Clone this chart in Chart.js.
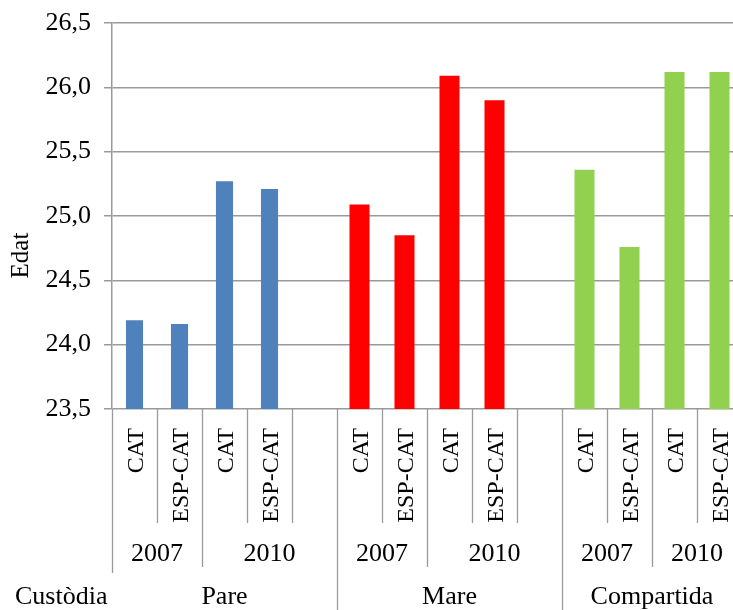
<!DOCTYPE html>
<html><head><meta charset="utf-8">
<script src="https://cdn.jsdelivr.net/npm/chart.js@4"></script>
<style>html,body{margin:0;padding:0;overflow:hidden;background:#fff}canvas{display:block}</style>
</head><body>
<canvas id="c" width="742" height="610"></canvas>
<script>
const groups = ['Pare', 'Mare', 'Compartida'];
const years = ['2007', '2010'];
const origins = ['CAT', 'ESP-CAT'];
const pareValues = [24.19, 24.16, 25.27, 25.21];
const mareValues = [25.09, 24.85, 26.09, 25.90];
const compartidaValues = [25.36, 24.76, 26.12, 26.12];
const yTicks = [23.5, 24.0, 24.5, 25.0, 25.5, 26.0, 26.5];
const yTitle = 'Edat';
const xTitle = 'Custòdia';
const groupColors = ['#4F81BD', '#FF0000', '#92D050'];
const lineColor = '#9A9A9A';
const FONT = '"Liberation Serif", "Times New Roman", serif';

const seriesValues = [pareValues, mareValues, compartidaValues];
const slots = [];
groups.forEach((g, gi) => {
  years.forEach((y, yi) => {
    origins.forEach((o, oi) => slots.push({group: g, gi, year: y, sub: o, value: seriesValues[gi][yi * origins.length + oi]}));
  });
  if (gi < groups.length - 1) slots.push({group: g, gi, year: years[years.length - 1], sub: '', value: null});
});
const labels = slots.map(s => s.sub);
const datasets = groups.map((g, gi) => ({
  label: g,
  data: slots.map(s => (s.gi === gi ? s.value : null)),
  backgroundColor: groupColors[gi],
  borderWidth: 0,
  barPercentage: gi === 0 ? 0.38 : 0.445,
  categoryPercentage: 1.0,
  grouped: false
}));

function runs(keyFn) {
  const out = [];
  slots.forEach((s, i) => {
    const k = keyFn(s);
    if (out.length && out[out.length - 1].key === k) out[out.length - 1].end = i;
    else out.push({key: k, start: i, end: i, slot: s});
  });
  return out;
}

const multiLevelAxis = {
  id: 'multiLevelAxis',
  afterDraw(chart) {
    const ctx = chart.ctx;
    const xs = chart.scales.x;
    const area = chart.chartArea;
    const step = xs.getPixelForValue(1) - xs.getPixelForValue(0);
    const edge = i => xs.getPixelForValue(i) - step / 2;
    const y0 = area.bottom;
    ctx.save();
    ctx.strokeStyle = lineColor;
    ctx.lineWidth = 1.3;
    for (let b = 0; b <= slots.length; b++) {
      let yEnd;
      if (b === 0) yEnd = 573;
      else if (b === slots.length) yEnd = 610;
      else {
        const p = slots[b - 1], n = slots[b];
        if (p.gi !== n.gi) yEnd = 610;
        else if (p.year !== n.year) yEnd = 567;
        else yEnd = 523;
      }
      const x = Math.round(edge(b)) + 0.5;
      ctx.beginPath();
      ctx.moveTo(x, y0);
      ctx.lineTo(x, yEnd);
      ctx.stroke();
    }
    ctx.fillStyle = '#000';
    // level 1: rotated origin labels
    ctx.font = '24px ' + FONT;
    slots.forEach((s, i) => {
      if (!s.sub) return;
      const cx = xs.getPixelForValue(i);
      ctx.save();
      ctx.translate(cx + 8, 428);
      ctx.rotate(-Math.PI / 2);
      ctx.textAlign = 'right';
      ctx.textBaseline = 'alphabetic';
      ctx.fillText(s.sub, 0, 0);
      ctx.restore();
    });
    // level 2: years
    ctx.font = '26px ' + FONT;
    ctx.textAlign = 'center';
    ctx.textBaseline = 'alphabetic';
    runs(s => s.gi + '|' + s.year).forEach(r => {
      const cx = (edge(r.start) + edge(r.end + 1)) / 2;
      ctx.fillText(r.slot.year, cx, 561);
    });
    // level 3: groups
    runs(s => s.group).forEach(r => {
      const cx = (edge(r.start) + edge(r.end + 1)) / 2;
      ctx.fillText(r.slot.group, cx, 604);
    });
    // axis titles
    ctx.textAlign = 'left';
    ctx.fillText(xTitle, 15, 604);
    ctx.save();
    ctx.font = '25px ' + FONT;
    ctx.translate(21, 255.5);
    ctx.rotate(-Math.PI / 2);
    ctx.textAlign = 'center';
    ctx.textBaseline = 'middle';
    ctx.fillText(yTitle, 0, 0);
    ctx.restore();
    ctx.restore();
  }
};

new Chart(document.getElementById('c'), {
  type: 'bar',
  data: {labels, datasets},
  plugins: [multiLevelAxis],
  options: {
    responsive: false,
    devicePixelRatio: 1,
    animation: false,
    layout: {padding: {top: 23, bottom: 201, left: 0, right: 0}},
    plugins: {legend: {display: false}, tooltip: {enabled: false}},
    scales: {
      x: {display: false, offset: true},
      y: {
        min: yTicks[0],
        max: yTicks[yTicks.length - 1],
        afterBuildTicks: scale => { scale.ticks = yTicks.map(v => ({value: v})); },
        afterFit: scale => { scale.width = 112; scale.paddingTop = 0; scale.paddingBottom = 0; },
        grid: {color: lineColor, lineWidth: 1.5, tickLength: 8, drawTicks: true},
        border: {display: true, color: lineColor, width: 1.5},
        ticks: {
          padding: 13,
          color: '#000',
          font: {family: FONT, size: 26},
          callback: v => Number(v).toFixed(1).replace('.', ',')
        }
      }
    }
  }
});
</script>
</body></html>
